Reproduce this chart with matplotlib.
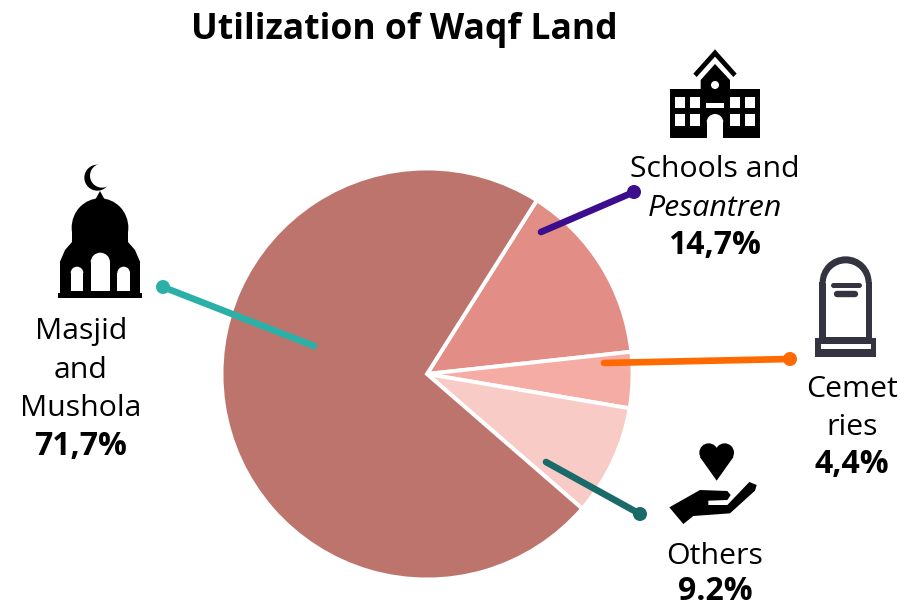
import matplotlib
matplotlib.use("Agg")
import matplotlib.pyplot as plt
from matplotlib.patches import Circle, Ellipse, Polygon, Rectangle, Wedge

# data, clockwise from the top right slice
categories = ['Schools and Pesantren', 'Cemeteries', 'Others', 'Masjid and Mushola']
# slice sizes as measured on the picture, the printed labels differ a little
shares = [14.3, 4.4, 8.7, 72.6]
share_labels = ['14,7%', '4,4%', '9.2%', '71,7%']
slice_colors = ['#e28e86', '#f4aca5', '#f8cbc7', '#bd746d']

H = 603
FONT = 'Open Sans'

fig = plt.figure(figsize=(9.1, 6.03), dpi=100)
ax = fig.add_axes([0, 0, 1, 1])

ax.pie(shares, colors=slice_colors, startangle=57.7, counterclock=False,
       center=(427, H - 374), radius=205.5, frame=True,
       wedgeprops={'edgecolor': 'white', 'linewidth': 2.8})
ax.set_xlim(0, 910)
ax.set_ylim(0, H)
ax.set_aspect('equal')
ax.axis('off')


def pt(x, y):
    return (x, H - y)


def zoomed(ox, oy):
    # icons were measured on 3x crops
    return lambda x, y: (ox + x / 3, H - (oy + y / 3))


def rect(p, x0, y0, x1, y1, color):
    a = p(x0, y1)
    b = p(x1, y0)
    ax.add_patch(Rectangle(a, b[0] - a[0], b[1] - a[1], fc=color, ec='none', zorder=6))


def poly(p, pts, color):
    ax.add_patch(Polygon([p(*q) for q in pts], closed=True, fc=color, ec='none', zorder=6))


def arch(p, x0, x1, ytop, ybot, color):
    r = (x1 - x0) / 2
    rect(p, x0, ytop + r, x1, ybot, color)
    c = p((x0 + x1) / 2, ytop + r)
    ax.add_patch(Wedge(c, r / 3, 0, 180, fc=color, ec='none', zorder=6))


# leader lines
leaders = [((163, 287), (314, 346), '#2bb0a8'),
           ((634, 192), (541, 232), '#3c0d8c'),
           ((790, 359), (604, 363), '#ff6a00'),
           ((640, 514), (546, 462), '#1a6a6a')]
for a, b, c in leaders:
    ax.plot([a[0], b[0]], [H - a[1], H - b[1]], color=c, lw=4.8, zorder=4, solid_capstyle='round')
    ax.add_patch(Circle(pt(*a), 7, fc=c, ec='none', zorder=5))

# mosque icon
p = zoomed(40, 155)
k = 'black'
ax.add_patch(Circle(p(172, 68), 39 / 3, fc=k, ec='none', zorder=6))
ax.add_patch(Circle(p(186, 62), 36 / 3, fc='white', ec='none', zorder=6))
poly(p, [(168, 130), (180, 108), (192, 130), (205, 142), (155, 142)], k)
ax.add_patch(Ellipse(p(180, 218), 170 / 3, 176 / 3, fc=k, ec='none', zorder=6))
rect(p, 95, 220, 265, 290, k)
poly(p, [(95, 262), (265, 262), (285, 285), (300, 320), (60, 320), (75, 285)], k)
rect(p, 60, 318, 300, 418, k)
rect(p, 55, 415, 305, 430, k)
arch(p, 92, 130, 335, 408, 'white')
arch(p, 152, 210, 293, 408, 'white')
arch(p, 232, 270, 335, 408, 'white')

# school icon
p = zoomed(650, 40)
rect(p, 60, 148, 330, 295, k)
poly(p, [(152, 120), (195, 72), (240, 120), (240, 150), (152, 150)], k)
poly(p, [(130, 101), (195, 28), (260, 101), (250, 111), (195, 50), (140, 111)], k)
ax.add_patch(Circle(p(195, 135), 12 / 3, fc='white', ec='none', zorder=7))
for x0, x1 in [(76, 105), (121, 150), (240, 270), (286, 316)]:
    for y0, y1 in [(170, 205), (222, 257)]:
        rect(p, x0, y0, x1, y1, 'white')
rect(p, 168, 188, 222, 205, 'white')
arch(p, 170, 220, 222, 295, 'white')

# gravestone icon
p = zoomed(790, 250)
g = '#33343f'
ax.add_patch(Wedge(p(167, 97), 78 / 3, 0, 180, fc=g, ec='none', zorder=6))
rect(p, 88, 95, 247, 270, g)
ax.add_patch(Wedge(p(167, 100), 60 / 3, 0, 180, fc='white', ec='none', zorder=6))
rect(p, 107, 98, 228, 262, 'white')
rect(p, 75, 265, 258, 320, g)
rect(p, 92, 283, 242, 298, 'white')
for x0, x1, y, w in [(128, 206, 104, 3.6), (140, 196, 133, 4.6)]:
    a = p(x0, y)
    b = p(x1, y)
    ax.plot([a[0], b[0]], [a[1], b[1]], color=g, lw=w, solid_capstyle='round', zorder=7)

# heart and hand icon
p = zoomed(650, 430)
ax.add_patch(Circle(p(176, 68), 28 / 3, fc=k, ec='none', zorder=6))
ax.add_patch(Circle(p(224, 68), 28 / 3, fc=k, ec='none', zorder=6))
poly(p, [(149, 80), (251, 80), (200, 152)], k)
poly(p, [(58, 232), (150, 180), (232, 183), (242, 195), (232, 210), (175, 212), (175, 225),
         (232, 225), (298, 156), (320, 165), (315, 182), (240, 250), (130, 258), (100, 282)], k)


def label(x, y, s, size=21.8, **kw):
    ax.text(x, H - y, s, ha='center', va='baseline', fontsize=size, family=FONT, zorder=8, **kw)


ax.text(404, H - 39, 'Utilization of Waqf Land', ha='center', va='baseline',
        fontsize=25.6, fontweight='bold', family=FONT)

label(81, 339, 'Masjid')
label(81, 378, 'and')
label(81, 416, 'Mushola')
label(81, 455, share_labels[3], size=23, fontweight='bold')

label(715, 177, 'Schools and')
label(715, 216, 'Pesantren', style='italic')
label(715, 254, share_labels[0], size=23, fontweight='bold')

label(852, 397, 'Cemet')
label(852, 435, 'ries')
label(852, 473, share_labels[1], size=23, fontweight='bold')

label(715, 564, 'Others')
label(715, 600, share_labels[2], size=23, fontweight='bold')

fig.savefig('out.png', dpi=100)
